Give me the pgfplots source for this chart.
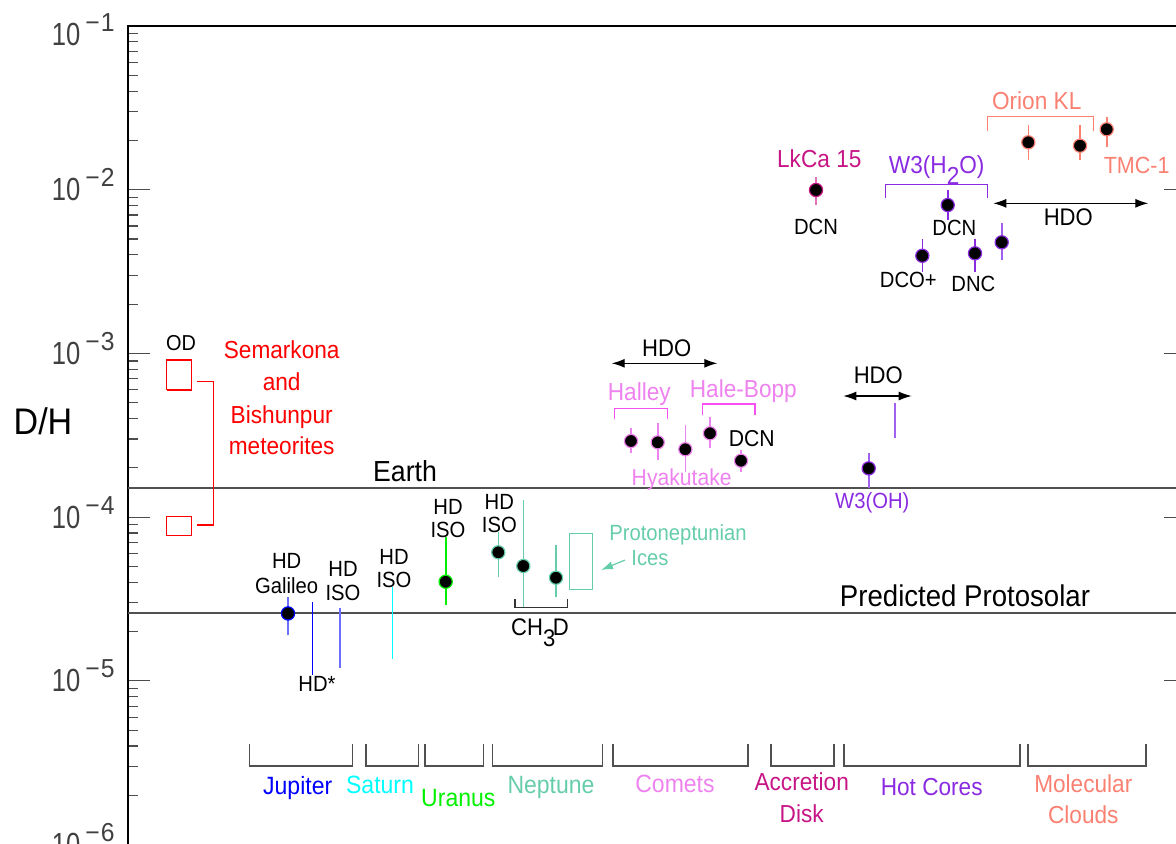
\documentclass[border=0pt]{standalone}
\usepackage{pgfplots}
\pgfplotsset{compat=1.18}
\usetikzlibrary{arrows.meta}
\usepackage{fontspec}
\setmainfont{Liberation Sans}[FakeStretch=0.92]
\newfontfamily\tickfont{Liberation Sans}[FakeStretch=0.8]
\newfontfamily\expfont{Liberation Sans}[FakeStretch=0.95]
\newcommand\fs[1]{\fontsize{#1}{#1}\selectfont}
\newcommand\tl[1]{{\color{black!75}\tickfont\fs{16}10\raisebox{7pt}{\expfont\fs{13}\kern2.5pt −\kern0.5pt#1}}}
\definecolor{jup}{HTML}{0000FF}
\definecolor{juplt}{HTML}{6E6EFF}
\definecolor{sat}{HTML}{00FFFF}
\definecolor{ura}{HTML}{00F000}
\definecolor{nep}{HTML}{66CDAA}
\definecolor{com}{HTML}{EE82EE}
\definecolor{combr}{HTML}{F850F0}
\definecolor{acc}{HTML}{C71585}
\definecolor{acclt}{HTML}{E070B8}
\definecolor{hot}{HTML}{8A2BE2}
\definecolor{hotlt}{HTML}{A060F0}
\definecolor{mol}{HTML}{FA8072}
\definecolor{axgray}{HTML}{505050}
\newcommand\eb[4]{\addplot[#1, line width=0.8pt, forget plot] coordinates {(#2,#3) (#2,#4)};}
\newcommand\lab[5]{\node[anchor=base, inner sep=0pt, text=#4, font=\fs{#3}] at (#1,{#2+0.716*#3}) {#5};}
\begin{document}
\begin{tikzpicture}
\useasboundingbox (0,0) rectangle (588pt,421.5pt);
\begin{axis}[
  at={(64pt,-0.75pt)}, anchor=south west,
  scale only axis, width=529pt, height=409.25pt,
  xmin=128, xmax=1186,
  ymode=log, ymin=1e-6, ymax=1e-1,
  xtick=\empty,
  ytick={1e-6,1e-5,1e-4,1e-3,1e-2,1e-1},
  yticklabels={\tl{6},\tl{5},\tl{4},\tl{3},\tl{2},\raisebox{-4pt}{\tl{1}}},
  minor ytick={2e-6,3e-6,4e-6,5e-6,6e-6,7e-6,8e-6,9e-6,
               2e-5,3e-5,4e-5,5e-5,6e-5,7e-5,8e-5,9e-5,
               2e-4,3e-4,4e-4,5e-4,6e-4,7e-4,8e-4,9e-4,
               2e-3,3e-3,4e-3,5e-3,6e-3,7e-3,8e-3,9e-3,
               2e-2,3e-2,4e-2,5e-2,6e-2,7e-2,8e-2,9e-2},
  ytick pos=both, yticklabel pos=left, tick align=inside,
  major tick length=11pt, minor tick length=5pt,
  tick style={black!70, line width=0.6pt},
  yticklabel style={anchor=base east, inner sep=0pt, xshift=-6.5pt, yshift=-5.5pt},
  axis line style={black, line width=0.8pt},
  clip=false,
]
% reference lines
\addplot[axgray, line width=0.8pt] coordinates {(128,1.5e-4) (1186,1.5e-4)};
\addplot[axgray, line width=0.8pt] coordinates {(128,2.6e-5) (1186,2.6e-5)};
% meteorites
\addplot[red, line width=0.6pt] coordinates {(166.7,5.975e-4) (191.7,5.975e-4) (191.7,9.114e-4) (166.7,9.114e-4) (166.7,5.975e-4)};
\addplot[red, line width=0.6pt] coordinates {(166.7,7.695e-5) (191.7,7.695e-5) (191.7,1.006e-4) (166.7,1.006e-4) (166.7,7.695e-5)};
\addplot[red, line width=0.6pt] coordinates {(196.7,6.716e-4) (213.3,6.716e-4) (213.3,8.947e-5) (196.7,8.947e-5)};
% Jupiter
\eb{juplt}{288}{1.905e-5}{3.264e-5}
\eb{jup}{312.3}{1.085e-5}{3.016e-5}
\eb{juplt}{340}{1.192e-5}{2.772e-5}
\addplot[only marks, mark=*, mark size=3.3pt, mark options={fill=black, draw=jup, line width=0.6pt}] coordinates {(288,2.58e-5)};
% Saturn
\eb{sat}{392.3}{1.359e-5}{3.756e-5}
% Uranus
\eb{ura}{445.7}{2.904e-5}{7.59e-5}
\addplot[only marks, mark=*, mark size=3.3pt, mark options={fill=black, draw=ura, line width=0.6pt}] coordinates {(445.7,4.03e-5)};
% Neptune
\eb{nep}{498.3}{4.323e-5}{8.14e-5}
\eb{nep}{523.3}{2.772e-5}{1.272e-4}
\eb{nep}{556}{3.236e-5}{6.754e-5}
\addplot[only marks, mark=*, mark size=3.3pt, mark options={fill=black, draw=nep, line width=0.6pt}] coordinates {(498.3,6.095e-5) (523.3,5.027e-5) (556,4.263e-5)};
\addplot[black!80, line width=0.7pt] coordinates {(515,3.146e-5) (515,2.812e-5) (567.7,2.812e-5) (567.7,3.146e-5)};
\addplot[nep, line width=0.6pt] coordinates {(569.3,3.621e-5) (592.7,3.621e-5) (592.7,7.96e-5) (569.3,7.96e-5) (569.3,3.621e-5)};
\addplot[nep, line width=0.6pt, -{Latex[length=6pt,width=4pt]}] coordinates {(625,5.467e-5) (601,4.752e-5)};
% Comets
\eb{com}{631}{2.474e-4}{3.486e-4}
\eb{com}{657.7}{2.233e-4}{3.741e-4}
\eb{com}{685.3}{1.894e-4}{3.652e-4}
\eb{com}{710}{2.655e-4}{4.106e-4}
\eb{com}{741}{1.894e-4}{2.57e-4}
\addplot[only marks, mark=*, mark size=3.3pt, mark options={fill=black, draw=com, line width=0.6pt}] coordinates {(631,2.917e-4) (657.7,2.863e-4) (685.3,2.596e-4) (710,3.25e-4) (741,2.211e-4)};
\addplot[combr, line width=0.7pt] coordinates {(614.3,3.958e-4) (614.3,4.62e-4) (667.3,4.62e-4) (667.3,3.958e-4)};
\addplot[combr, line width=0.7pt] coordinates {(702.3,4.205e-4) (702.3,4.908e-4) (755,4.908e-4) (755,4.205e-4)};
\addplot[black, line width=0.6pt, {Latex[length=6.5pt,width=4.5pt]}-{Latex[length=6.5pt,width=4.5pt]}] coordinates {(611.7,8.7e-4) (717.3,8.7e-4)};
% Accretion disk
\eb{acclt}{816}{8.06e-3}{1.2e-2}
\addplot[only marks, mark=*, mark size=3.3pt, mark options={fill=black, draw=acc, line width=0.6pt}] coordinates {(816,9.96e-3)};
% Hot cores
\eb{hotlt}{868.7}{1.5e-4}{2.474e-4}
\eb{hotlt}{895}{3.03e-4}{4.957e-4}
\eb{hot}{947.7}{6.53e-3}{9.96e-3}
\eb{hot}{922.3}{3.155e-3}{4.977e-3}
\eb{hot}{975}{3.155e-3}{4.977e-3}
\eb{hotlt}{1001.7}{3.72e-3}{6.233e-3}
\addplot[only marks, mark=*, mark size=3.3pt, mark options={fill=black, draw=hot, line width=0.6pt}] coordinates {(868.7,1.986e-4) (947.7,8.06e-3) (922.3,3.95e-3) (975,4.087e-3) (1001.7,4.772e-3)};
\addplot[black, line width=0.6pt, {Latex[length=6.5pt,width=4.5pt]}-{Latex[length=6.5pt,width=4.5pt]}] coordinates {(843.3,5.493e-4) (911.7,5.493e-4)};
\addplot[hot, line width=0.7pt] coordinates {(885.7,8.94e-3) (885.7,1.079e-2) (987.7,1.079e-2) (987.7,8.94e-3)};
\addplot[black, line width=0.6pt, {Latex[length=6.5pt,width=4.5pt]}-{Latex[length=6.5pt,width=4.5pt]}] coordinates {(993.3,8.257e-3) (1148.3,8.257e-3)};
% Molecular clouds
\eb{mol}{1028.3}{1.519e-2}{2.485e-2}
\eb{mol}{1080}{1.519e-2}{2.485e-2}
\eb{mol}{1106.7}{1.831e-2}{2.791e-2}
\addplot[only marks, mark=*, mark size=3.3pt, mark options={fill=black, draw=mol, line width=0.6pt}] coordinates {(1028.3,1.948e-2) (1080,1.857e-2) (1106.7,2.339e-2)};
\addplot[mol, line width=0.7pt] coordinates {(987.7,2.284e-2) (987.7,2.791e-2) (1093.3,2.791e-2) (1093.3,2.284e-2)};
% category brackets
\addplot[axgray, line width=0.8pt] coordinates {(249.3,4.11e-6) (249.3,3.03e-6) (352.3,3.03e-6) (352.3,4.11e-6)};
\addplot[axgray, line width=0.8pt] coordinates {(365.7,4.11e-6) (365.7,3.03e-6) (418.3,3.03e-6) (418.3,4.11e-6)};
\addplot[axgray, line width=0.8pt] coordinates {(425,4.11e-6) (425,3.03e-6) (483.3,3.03e-6) (483.3,4.11e-6)};
\addplot[axgray, line width=0.8pt] coordinates {(492.3,4.11e-6) (492.3,3.03e-6) (602.3,3.03e-6) (602.3,4.11e-6)};
\addplot[axgray, line width=0.8pt] coordinates {(612.7,4.11e-6) (612.7,3.03e-6) (747.7,3.03e-6) (747.7,4.11e-6)};
\addplot[axgray, line width=0.8pt] coordinates {(770.7,4.11e-6) (770.7,3.03e-6) (834,3.03e-6) (834,4.11e-6)};
\addplot[axgray, line width=0.8pt] coordinates {(844,4.11e-6) (844,3.03e-6) (1020,3.03e-6) (1020,4.11e-6)};
\addplot[axgray, line width=0.8pt] coordinates {(1027.7,4.11e-6) (1027.7,3.03e-6) (1146,3.03e-6) (1146,4.11e-6)};
\end{axis}
\begin{scope}[x=0.5pt, y=-0.5pt, shift={(0pt,421.5pt)}]
\lab{43}{421.7}{18.5}{black}{D/H}
\lab{181}{342.7}{10.8}{black}{OD}
\lab{281.7}{350}{12.3}{red}{Semarkona}
\lab{281.7}{381.7}{12.3}{red}{and}
\lab{281.7}{415}{12.3}{red}{Bishunpur}
\lab{281.7}{445.7}{12.3}{red}{meteorites}
\lab{405}{471}{14.5}{black}{Earth}
\lab{965}{596}{15}{black}{Predicted Protosolar}
\lab{286.7}{561}{11}{black}{HD}
\lab{286.7}{585.5}{11}{black}{Galileo}
\lab{343}{569}{11}{black}{HD}
\lab{343}{593}{11}{black}{ISO}
\lab{317}{684}{11}{black}{HD*}
\lab{394}{556.7}{11}{black}{HD}
\lab{394}{580}{11}{black}{ISO}
\lab{448}{506.7}{11}{black}{HD}
\lab{448}{529.3}{11}{black}{ISO}
\lab{499.3}{501.7}{11}{black}{HD}
\lab{499.3}{525}{11}{black}{ISO}
\lab{540}{626.7}{12}{black}{CH\raisebox{-0.45em}{3}\kern-0.1em D}
\lab{678}{533}{11}{nep}{Protoneptunian}
\lab{650}{557.5}{11}{nep}{Ices}
\lab{666.7}{348.3}{12}{black}{HDO}
\lab{878.3}{375}{12}{black}{HDO}
\lab{1068.3}{216.7}{12}{black}{HDO}
\lab{639.3}{392}{12.3}{com}{Halley}
\lab{743.3}{389}{12.3}{com}{Hale-Bopp}
\lab{681.7}{477}{11.5}{com}{Hyakutake}
\lab{751.7}{438.3}{11.5}{black}{DCN}
\lab{872.3}{501}{11}{hot}{W3(OH)}
\lab{819.3}{158.3}{12.3}{acc}{LkCa 15}
\lab{816}{226.7}{11}{black}{DCN}
\lab{936.7}{165}{12.3}{hot}{W3(H\raisebox{-0.45em}{2}O)}
\lab{954.3}{227.7}{11}{black}{DCN}
\lab{908.3}{280}{11}{black}{DCO+}
\lab{973.3}{284}{11}{black}{DNC}
\lab{1036.7}{100.7}{12.3}{mol}{Orion KL}
\lab{1136.7}{165}{11.7}{mol}{TMC-1}
\lab{297.7}{786}{12.5}{jup}{Jupiter}
\lab{380}{785}{12.5}{sat}{Saturn}
\lab{458.3}{797.3}{12.5}{ura}{Uranus}
\lab{551}{785}{12.5}{nep}{Neptune}
\lab{675}{784}{12.5}{com}{Comets}
\lab{801.7}{781.7}{12.3}{acc}{Accretion}
\lab{801.7}{813.3}{12.3}{acc}{Disk}
\lab{931.7}{786.7}{12.3}{hot}{Hot Cores}
\lab{1083.3}{783.3}{12.3}{mol}{Molecular}
\lab{1083.3}{815}{12.3}{mol}{Clouds}
\end{scope}
\end{tikzpicture}
\end{document}
